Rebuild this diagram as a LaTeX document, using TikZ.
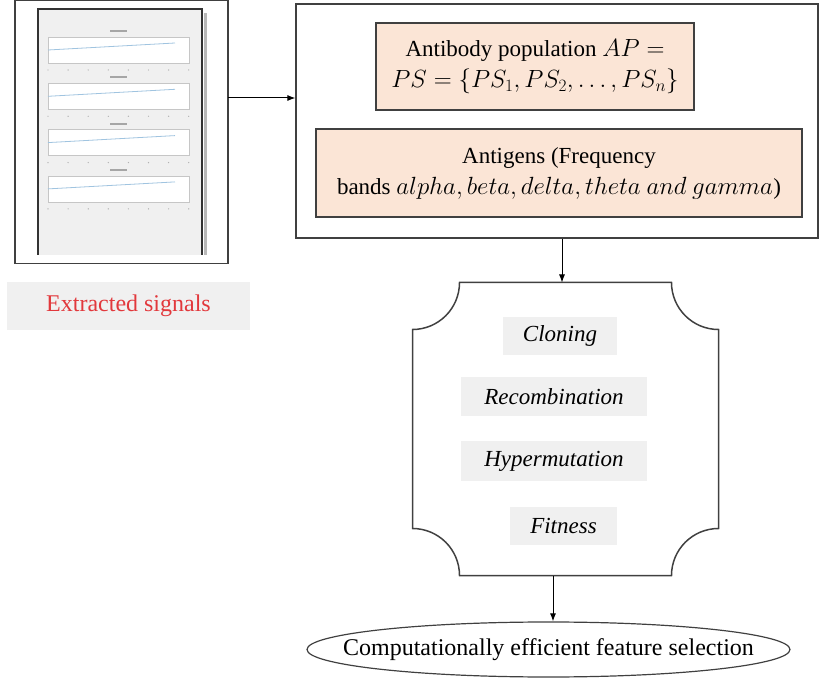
\documentclass[tikz,border=0pt]{standalone}
\usepackage{fontspec}
\setmainfont{Liberation Serif}
\usetikzlibrary{arrows.meta,shapes.geometric}
\definecolor{peach}{RGB}{251,229,214}
\definecolor{panelgray}{RGB}{240,240,240}
\definecolor{edge}{RGB}{64,64,64}
\definecolor{sigred}{RGB}{226,56,60}
\definecolor{traceblue}{RGB}{160,196,224}
\tikzset{
  frame/.style={draw=edge,line width=1.2pt,inner sep=0pt},
  peachbox/.style={frame,fill=peach,align=center,font=\fontsize{23}{31}\selectfont},
  opbox/.style={fill=panelgray,inner sep=0pt,font=\fontsize{23}{26}\selectfont\itshape},
  plotframe/.style={draw=gray!45,fill=white,line width=.4pt},
}
\begin{document}
\begin{tikzpicture}[x=1pt,y=1pt,>={Latex[length=8pt,width=6pt]},line width=1pt]
      \useasboundingbox (0,0) rectangle (820,681);
      % extracted signals panel
      \node[frame,minimum width=213pt,minimum height=263pt] (sig) at (121.5,549) {};
      \begin{scope}[shift={(0,0)}]
        \fill[panelgray] (38,426) rectangle (202,672);
        \draw[gray!55,line width=3pt](205,426)--(205,668);
        \draw[black!80,line width=2pt](38,426)--(38,672)--(202,672)--(202,426);
        \foreach \i in{0,1,2,3}{%
          \pgfmathsetmacro{\y}{644-46.3*\i}
          \draw[plotframe](48,\y-26)rectangle(189,\y);
          \draw[traceblue,line width=.8pt](48,\y-13)--(175,\y-6);
          \fill[gray!70](110,\y+5)rectangle(127,\y+7);
          \foreach \t in{0,...,7}{%
            \fill[gray!60](48+\t*20.1,\y-33)circle(.7);
          }
        }
      \end{scope}
      \node[fill=panelgray,minimum width=243pt,minimum height=48pt,inner sep=0pt,
            text=sigred,font=\fontsize{24}{26}\selectfont] (lab) at (128.5,375) {Extracted signals};
      % immune environment
      \node[frame,minimum width=522pt,minimum height=234pt] (env) at (557,560) {};
      \node[peachbox,minimum width=318pt,minimum height=87pt] (ap) at (535,614.5)
        {Antibody population $AP =$\\ $PS = \{PS_1, PS_2, \dots, PS_n\}$};
      \node[peachbox,minimum width=486pt,minimum height=88pt] (ag) at (559,508)
        {Antigens (Frequency\\ bands $alpha, beta, delta, theta\ and\ gamma$)};
      % operators
      \node[minimum width=305pt,minimum height=292pt,inner sep=0pt] (ops) at (565.5,252) {};
      \draw[edge,line width=1.5pt]
        ([xshift=47pt]ops.north west)--([xshift=-47pt]ops.north east)
        arc[start angle=180,end angle=270,radius=47pt]
        --([yshift=47pt]ops.south east)
        arc[start angle=90,end angle=180,radius=47pt]
        --([xshift=47pt]ops.south west)
        arc[start angle=0,end angle=90,radius=47pt]
        --([yshift=-47pt]ops.north west)
        arc[start angle=270,end angle=360,radius=47pt]--cycle;
      \node[opbox,minimum width=114pt,minimum height=38pt] (clo) at (560,345) {Cloning};
      \node[opbox,minimum width=186pt,minimum height=39pt] (rec) at (554,284.5) {Recombination};
      \node[opbox,minimum width=186pt,minimum height=40pt] (hyp) at (554,220) {Hypermutation};
      \node[opbox,minimum width=107pt,minimum height=38pt] (fit) at (563.5,155) {Fitness};
      % result
      \node[ellipse,frame,minimum width=483pt,minimum height=55pt,
            label={[font=\fontsize{24}{26}\selectfont]center:Computationally efficient feature selection}] (out) at (548.5,31.5) {};
      % connectors
      \coordinate (sigout) at (228,583);
      \draw[->](sigout)--(sigout -| env.west);
      \draw[->]([xshift=5pt]env.south)--([xshift=-3.5pt]ops.north);
      \draw[->]([xshift=-12.5pt]ops.south)--([xshift=4.5pt]out.north);
    \end{tikzpicture}
\end{document}
